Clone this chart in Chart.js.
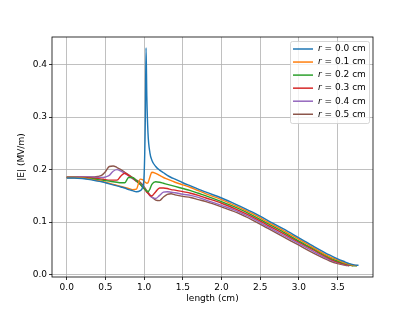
<!DOCTYPE html>
<html>
<head>
<meta charset="utf-8">
<script src="https://cdn.jsdelivr.net/npm/chart.js@4/dist/chart.umd.min.js"></script>
<style>
  body { margin: 0; background: #fff; }
  #wrap { width: 415px; height: 311px; }
</style>
</head>
<body>
<div id="wrap"><canvas id="fieldChart" width="415" height="311"></canvas></div>
<script>
// length along the line (cm)
const lengths = [0, 0.1, 0.2, 0.3, 0.4, 0.45, 0.5, 0.55, 0.6, 0.65, 0.7, 0.75, 0.8, 0.85, 0.9,
  0.95, 0.98, 1.0, 1.015, 1.025, 1.035, 1.05, 1.075, 1.1, 1.15, 1.2, 1.25, 1.3, 1.35, 1.4,
  1.5, 1.6, 1.7, 1.8, 2.0, 2.2, 2.4, 2.6, 2.8, 3.0, 3.2, 3.4, 3.5, 3.6, 3.65, 3.7, 3.75, 3.77];

// |E| (MV/m) for each radius
const r00 = [.184, .184, .183, .181, .178, .177, .175, .173, .171, .169, .167, .165, .162, .160, .158,
  .160, .166, .190, .290, .432, .340, .270, .232, .218, .206, .199, .194, .189, .185, .182,
  .175, .169, .163, .157, .146, .133, .119, .103, .087, .070, .053, .037, .030, .024, .021, .019, .018, .018];
const r01 = [.185, .185, .184, .182, .179, .178, .176, .174, .172, .170, .168, .166, .164, .162, .163,
  .182, .181, .178, .176, .175, .174, .175, .186, .195, .193, .189, .185, .182, .179, .176,
  .171, .166, .160, .154, .143, .130, .116, .100, .084, .067, .050, .034, .028, .022, .020, .018, .017, null];
const r02 = [.185, .185, .184, .183, .181, .180, .179, .178, .177, .176, .175, .175, .185, .185, .179,
  .172, .167, .164, .162, .160, .159, .158, .163, .172, .177, .176, .174, .172, .170, .168,
  .164, .160, .155, .150, .139, .127, .113, .097, .081, .064, .048, .032, .026, .021, .019, .017, .017, null];
const r03 = [.185, .185, .185, .184, .183, .182, .181, .180, .180, .180, .188, .193, .189, .184, .178,
  .172, .167, .164, .161, .159, .157, .155, .151, .150, .158, .165, .165, .164, .162, .161,
  .158, .155, .151, .146, .136, .124, .110, .094, .078, .062, .046, .030, .024, .020, .018, .017, null, null];
const r04 = [.186, .186, .186, .186, .185, .185, .186, .189, .197, .200, .197, .193, .188, .183, .178,
  .173, .168, .165, .162, .160, .158, .155, .150, .147, .145, .151, .157, .158, .157, .156,
  .153, .151, .147, .142, .132, .121, .107, .091, .075, .059, .043, .028, .023, .019, .017, null, null, null];
const r05 = [.186, .186, .186, .186, .187, .189, .196, .206, .207, .204, .200, .195, .190, .185, .180,
  .176, .171, .167, .164, .162, .160, .157, .152, .148, .142, .141, .148, .153, .154, .152,
  .149, .147, .143, .139, .129, .118, .104, .088, .072, .056, .040, .026, .021, .018, .017, null, null, null];

const radii = ['0.0', '0.1', '0.2', '0.3', '0.4', '0.5'];
const series = [r00, r01, r02, r03, r04, r05];
const colors = ['#1f77b4', '#ff7f0e', '#2ca02c', '#d62728', '#9467bd', '#8c564b'];

const FONT = 'DejaVu Sans';

function toPoints(values) {
    const pts = [];
    values.forEach(function(v, i) {
        if (v !== null) pts.push({ x: lengths[i], y: v });
    });
    return pts;
}

// black box round the plot area, like matplotlib spines, plus legend in the corner
const framePlugin = {
    id: 'frame',
    afterDraw: function(chart) {
        const ctx = chart.ctx;
        const a = chart.chartArea;
        ctx.save();
        ctx.strokeStyle = '#000';
        ctx.lineWidth = 0.8;
        ctx.strokeRect(a.left, a.top, a.right - a.left, a.bottom - a.top);

        // legend
        const bx = 290, by = 41, bw = 79, bh = 82;
        ctx.fillStyle = 'rgba(255,255,255,0.8)';
        ctx.strokeStyle = '#cccccc';
        ctx.lineWidth = 0.8;
        ctx.beginPath();
        ctx.roundRect(bx + 0.5, by + 0.5, bw, bh, 2);
        ctx.fill();
        ctx.stroke();

        ctx.textBaseline = 'middle';
        radii.forEach(function(r, i) {
            const y = 49 + i * 13.05;
            ctx.strokeStyle = colors[i];
            ctx.lineWidth = 1.5;
            ctx.beginPath();
            ctx.moveTo(293, y);
            ctx.lineTo(313, y);
            ctx.stroke();
            ctx.fillStyle = '#000';
            ctx.font = 'italic 9px "' + FONT + '"';
            ctx.fillText('r', 318, y);
            const w = ctx.measureText('r').width;
            ctx.font = '9px "' + FONT + '"';
            ctx.fillText(' = ' + r + ' cm', 318 + w, y);
        });
        ctx.restore();
    }
};

const datasets = series.map(function(vals, i) {
    return {
        label: 'r = ' + radii[i] + ' cm',
        data: toPoints(vals),
        borderColor: colors[i],
        backgroundColor: colors[i],
        borderWidth: 1.4,
        pointRadius: 0,
        fill: false,
        cubicInterpolationMode: 'monotone'
    };
});

new Chart(document.getElementById('fieldChart').getContext('2d'), {
    type: 'line',
    data: { datasets: datasets },
    options: {
        responsive: false,
        animation: false,
        layout: { padding: { left: 0, top: 37, right: 42, bottom: 0 } },
        plugins: {
            legend: { display: false },
            tooltip: { enabled: false }
        },
        scales: {
            x: {
                type: 'linear',
                min: -0.19,
                max: 3.957,
                afterFit: function(scale) { scale.height = 34; },
                grid: {
                    color: '#b0b0b0',
                    lineWidth: 0.8,
                    tickColor: '#000',
                    tickLength: 3
                },
                border: { display: false },
                ticks: {
                    stepSize: 0.5,
                    includeBounds: false,
                    autoSkip: false,
                    maxRotation: 0,
                    padding: 2,
                    color: '#000',
                    font: { family: FONT, size: 9 },
                    callback: function(v) { return v.toFixed(1); }
                },
                title: {
                    display: true,
                    text: 'length (cm)',
                    color: '#000',
                    font: { family: FONT, size: 9 },
                    padding: { top: 0, bottom: 7 }
                }
            },
            y: {
                min: -0.0045,
                max: 0.4526,
                afterFit: function(scale) { scale.width = 52; },
                grid: {
                    color: '#b0b0b0',
                    lineWidth: 0.8,
                    tickColor: '#000',
                    tickLength: 3
                },
                border: { display: false },
                ticks: {
                    stepSize: 0.1,
                    includeBounds: false,
                    padding: 2,
                    color: '#000',
                    font: { family: FONT, size: 9 },
                    callback: function(v) { return v.toFixed(1); }
                },
                title: {
                    display: true,
                    text: '|E| (MV/m)',
                    color: '#000',
                    font: { family: FONT, size: 9 },
                    padding: { top: 16, bottom: 0 }
                }
            }
        }
    },
    plugins: [framePlugin]
});
</script>
</body>
</html>
